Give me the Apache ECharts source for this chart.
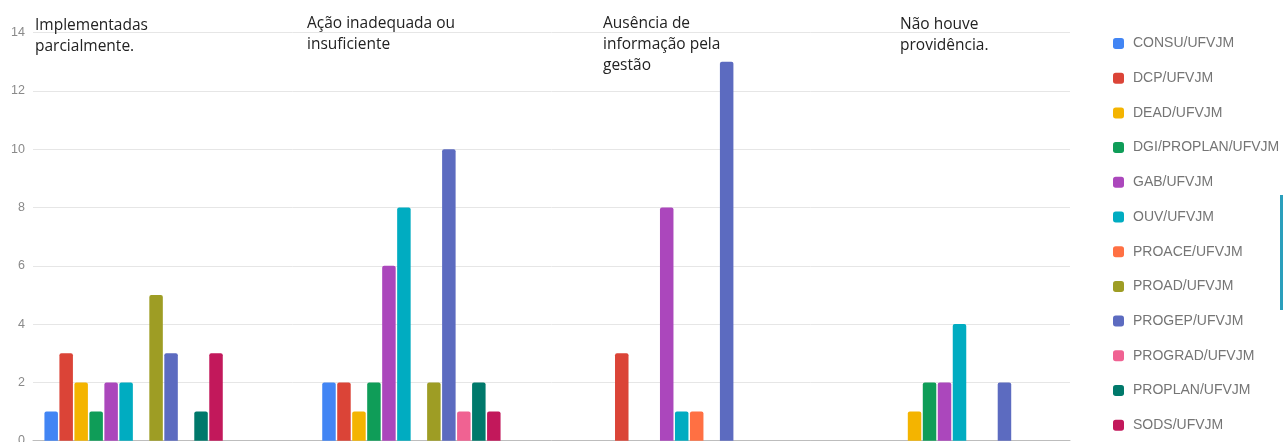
<!DOCTYPE html>
<html>
<head>
<meta charset="utf-8">
<script src="https://cdn.jsdelivr.net/npm/echarts@6/dist/echarts.min.js"></script>
<style>
html,body{margin:0;padding:0;background:#fff;}
#c{width:1284px;height:442px;}
</style>
</head>
<body>
<div id="c"></div>
<script>
var categories = ['Implementadas parcialmente.', 'Ação inadequada ou insuficiente', 'Ausência de informação pela gestão', 'Não houve providência.'];
var categoryLabels = ['Implementadas\nparcialmente.', 'Ação inadequada ou\ninsuficiente', 'Ausência de\ninformação pela\ngestão', 'Não houve\nprovidência.'];
var seriesNames = ['CONSU/UFVJM','DCP/UFVJM','DEAD/UFVJM','DGI/PROPLAN/UFVJM','GAB/UFVJM','OUV/UFVJM','PROACE/UFVJM','PROAD/UFVJM','PROGEP/UFVJM','PROGRAD/UFVJM','PROPLAN/UFVJM','SODS/UFVJM'];
var consu   = [1, 2, 0, 0];
var dcp     = [3, 2, 3, 0];
var dead    = [2, 1, 0, 1];
var dgi     = [1, 2, 0, 2];
var gab     = [2, 6, 8, 2];
var ouv     = [2, 8, 1, 4];
var proace  = [0, 0, 1, 0];
var proad   = [5, 2, 0, 0];
var progep  = [3, 10, 13, 2];
var prograd = [0, 1, 0, 0];
var proplan = [1, 2, 0, 0];
var sods    = [3, 1, 0, 0];
var yTicks = [0, 2, 4, 6, 8, 10, 12, 14];

var seriesValues = [consu, dcp, dead, dgi, gab, ouv, proace, proad, progep, prograd, proplan, sods];
var colors = ['#4285F4','#DB4437','#F4B400','#0F9D58','#AB47BC','#00ACC1','#FF7043','#9E9D24','#5C6BC0','#F06292','#00796B','#C2185B'];

var chart = echarts.init(document.getElementById('c'));

var series = seriesNames.map(function(name, i){
  return {
    name: name,
    type: 'bar',
    xAxisIndex: 0,
    yAxisIndex: 0,
    data: seriesValues[i],
    barWidth: 13.5,
    barGap: '11%',
    itemStyle: { color: colors[i], borderRadius: [2,2,0,0] },
    animation: false
  };
});

var labelPos = [[35,15.5],[307,13.5],[603,13.5],[900,14.5]];
var graphics = categoryLabels.map(function(t, i){
  return {
    type: 'text',
    x: labelPos[i][0],
    y: labelPos[i][1],
    z: 10,
    style: {
      text: t,
      font: '15.5px "Open Sans"',
      fill: '#222',
      lineHeight: 21,
      verticalAlign: 'top'
    }
  };
});
graphics.push({
  type: 'rect',
  shape: { x: 1280, y: 195, width: 3, height: 115 },
  style: { fill: '#2a9fbc' }
});

chart.setOption({
  animation: false,
  color: colors,
  grid: [
    { left: -5.3, width: 1111.2, top: 32.6, bottom: 1.3, outerBoundsMode: 'none', containLabel: false },
    { left: 33, right: 214, top: 32.6, bottom: 1.3, outerBoundsMode: 'none', containLabel: false }
  ],
  xAxis: [
    { gridIndex: 0, type: 'category', data: categories, show: false },
    { gridIndex: 1, type: 'value', min: 0, max: 1,
      axisLine: { show: true, lineStyle: { color: '#bdbdbd', width: 1 } },
      axisTick: { show: false }, axisLabel: { show: false }, splitLine: { show: false } }
  ],
  yAxis: [
    { gridIndex: 0, type: 'value', min: 0, max: 14, interval: 2, show: false, splitLine: { show: false } },
    { gridIndex: 1, type: 'value', min: 0, max: 14, interval: 2,
      axisLine: { show: false }, axisTick: { show: false },
      axisLabel: { margin: 8, color: '#8a8a8a', fontSize: 12.5, fontFamily: '"Liberation Sans", Arial',
        formatter: function(v){ return yTicks.indexOf(v) >= 0 ? String(v) : ''; } },
      splitLine: { lineStyle: { color: '#e6e6e6', width: 1 } } }
  ],
  legend: {
    orient: 'vertical',
    left: 1113,
    top: 36.5,
    padding: 0,
    itemWidth: 11,
    itemHeight: 11,
    itemGap: 20.7,
    icon: 'roundRect',
    data: seriesNames,
    textStyle: { color: '#757575', fontSize: 14, fontFamily: '"Liberation Sans", Arial', lineHeight: 14, padding: [0,0,0,4] }
  },
  graphic: graphics,
  series: series
});
</script>
</body>
</html>
